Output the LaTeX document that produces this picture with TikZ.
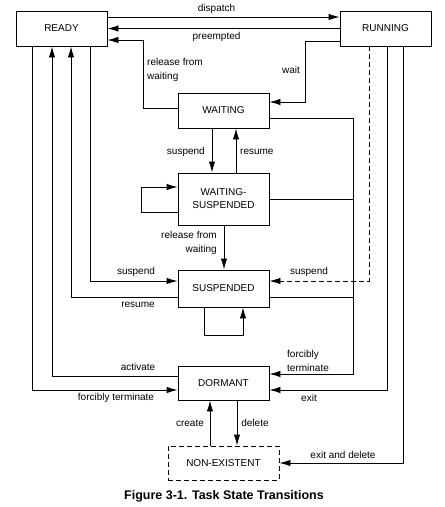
\documentclass[tikz,border=0pt]{standalone}
\usepackage{fontspec}
\setmainfont{Liberation Sans}
\usetikzlibrary{arrows.meta, positioning}

\tikzset{
  state/.style={draw, line width=0.9pt, minimum width=91pt, minimum height=35pt,
    inner sep=1pt, align=center, font=\fontsize{10}{13}\selectfont},
  trans/.style={line width=0.9pt, -{Latex[length=11pt,width=6.5pt]}},
  lbl/.style={inner sep=0pt, font=\fontsize{10}{13.5}\selectfont},
}

\begin{document}
\begin{tikzpicture}[x=1pt, y=-1pt]
  \useasboundingbox (0,0) rectangle (445,507);

  % States
  \node[state] (ready) at (61.5,28.5) {READY};
  \node[state] (running) at (385.5,28.5) {RUNNING};
  \node[state] (waiting) at (223.5,110.5) {WAITING};
  \node[state, minimum height=52pt] (waitsusp) at (223.5,199) {WAITING-\\SUSPENDED};
  \node[state, minimum height=37pt] (suspended) at (223.5,288.5) {SUSPENDED};
  \node[state, minimum height=34pt] (dormant) at (223.5,383) {DORMANT};
  \node[state, dash pattern=on 5pt off 3pt, minimum width=111pt, minimum height=34pt]
    (nonexist) at (223.5,463) {NON-EXISTENT};

  % READY <-> RUNNING
  \draw[trans] ([yshift=11.5pt]ready.east) -- ([yshift=11.5pt]running.west)
    node[lbl, pos=0.47, above=3pt] (lbldispatch) {dispatch};
  \draw[trans] (running.west) -- (ready.east)
    node[lbl, pos=0.53, below=3pt] (lblpreempt) {preempted};

  % WAITING <-> READY / RUNNING
  \draw[trans] ([yshift=2.5pt]waiting.west) -| (143,40) -- (ready.east |- 143,40);
  \node[lbl, anchor=west, align=left] (lblrelease) at (147,70) {release from\\waiting};
  \draw[trans] ([yshift=-12.5pt]running.west) -| (305,102) -- (waiting.east |- 305,102);
  \node[lbl] (lblwait) at (291,70) {wait};

  % WAITING <-> WAITING-SUSPENDED
  \draw[trans] ([xshift=-11.5pt]waiting.south) -- ([xshift=-11.5pt]waitsusp.north);
  \node[lbl, anchor=east] (lblsuspw) at (205,152) {suspend};
  \draw[trans] ([xshift=12.5pt]waitsusp.north) -- ([xshift=12.5pt]waiting.south);
  \node[lbl, anchor=west] (lblresw) at (240,152) {resume};
  \draw[trans] ([yshift=-13pt]waitsusp.west) -- ++(-36,0) |- ([yshift=12pt]waitsusp.west);

  % WAITING-SUSPENDED -> SUSPENDED
  \draw[trans] ([xshift=0.5pt]waitsusp.south) -- ([xshift=0.5pt]suspended.north);
  \node[lbl, anchor=east, align=right] (lblreleasews) at (217,243) {release from\\waiting};

  % READY <-> SUSPENDED
  \draw[trans] ([xshift=28.5pt]ready.south) |- ([yshift=7.5pt]suspended.west);
  \node[lbl] (lblsusp) at (136,272) {suspend};
  \draw[trans] ([yshift=-8.5pt]suspended.west) -| ([xshift=9.5pt]ready.south);
  \node[lbl] (lblres) at (138,305) {resume};
  \draw[trans, dash pattern=on 5pt off 3pt] ([xshift=-16.5pt]running.south)
    |- ([yshift=7.5pt]suspended.east);
  \node[lbl] (lblsuspr) at (309,272) {suspend};
  \draw[trans] ([xshift=-19.5pt]suspended.south) -- ++(0,28) -| ([xshift=19.5pt]suspended.south);

  % forcibly terminate from the right
  \draw[trans] ([yshift=-7.5pt]waiting.east) -| ([xshift=84pt,yshift=9pt]dormant.east)
    -- ([yshift=9pt]dormant.east);
  \draw[line width=0.9pt] (waitsusp.east) -- (waitsusp.east -| 353,0);
  \draw[line width=0.9pt] ([yshift=-8.5pt]suspended.east) -- ([yshift=-8.5pt]suspended.east -| 353,0);
  \node[lbl, anchor=west, align=left] (lblforcer) at (287,361) {forcibly\\terminate};

  % DORMANT
  \draw[trans] ([yshift=7pt]dormant.west) -| ([xshift=-9.5pt]ready.south);
  \node[lbl] (lblactivate) at (138,367) {activate};
  \draw[trans] ([xshift=-29.5pt]ready.south) |- ([yshift=-7pt]dormant.west);
  \node[lbl] (lblforcel) at (116,398) {forcibly terminate};
  \draw[trans] ([xshift=1.5pt]running.south) |- ([yshift=-7pt]dormant.east);
  \node[lbl] (lblexit) at (309,398) {exit};

  % NON-EXISTENT
  \draw[trans] ([xshift=-13.5pt]nonexist.north) -- ([xshift=-13.5pt]dormant.south);
  \node[lbl] (lblcreate) at (190,423) {create};
  \draw[trans] ([xshift=13.5pt]dormant.south) -- ([xshift=13.5pt]nonexist.north);
  \node[lbl] (lbldelete) at (255,423) {delete};
  \draw[trans] ([xshift=17.5pt]running.south) |- (nonexist.east);
  \node[lbl] (lblexitdel) at (343,455) {exit and delete};

  % Caption
  \node[font=\bfseries\fontsize{12.5}{15}\selectfont] (caption) at (224,496)
    {Figure 3-1. Task State Transitions};
\end{tikzpicture}
\end{document}
